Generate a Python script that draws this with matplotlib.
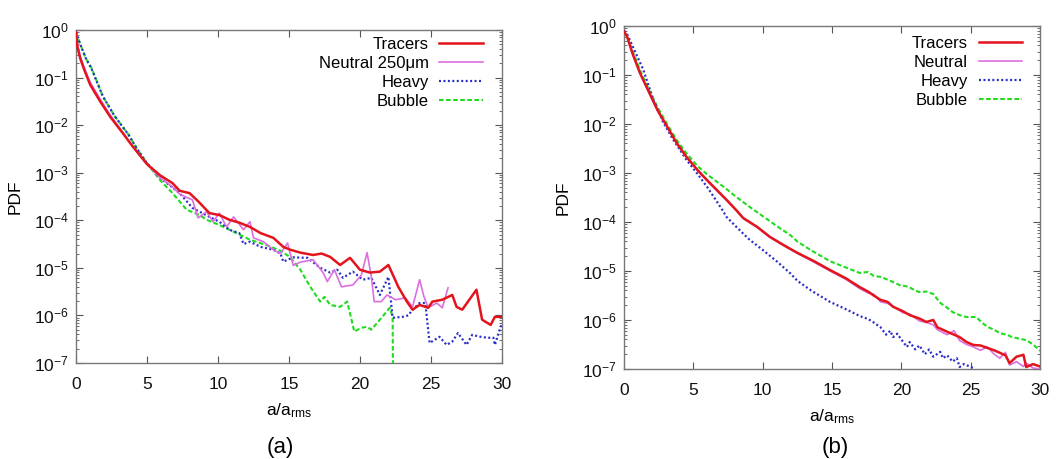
import numpy as np
import matplotlib
matplotlib.use("Agg")
import matplotlib.pyplot as plt
from matplotlib.ticker import LogLocator, FixedLocator, NullFormatter

plt.rcParams['font.family'] = ['Liberation Sans', 'DejaVu Sans']
plt.rcParams['mathtext.fontset'] = 'custom'
plt.rcParams['mathtext.rm'] = 'Liberation Sans'
plt.rcParams['mathtext.it'] = 'Liberation Sans'
plt.rcParams['mathtext.default'] = 'regular'

# ---------------- Panel (a) data (x = a/a_rms, y = log10 PDF) ----------------
a_tracers_x = [0, 0.1, 0.3, 0.6, 1.0, 1.7, 2.4, 3.3, 4.0, 5.0, 5.9, 6.8, 7.3, 8.0, 8.6, 9.4, 10.1, 10.8, 11.5, 12.25,
               13.0, 13.9, 14.6, 15.1, 15.8, 16.7, 17.3, 17.9, 18.6, 19.3, 20.0, 20.7, 21.4, 22.0, 22.7, 23.3, 23.7,
               24.2, 24.8, 25.1, 25.8, 26.5, 26.8, 27.2, 28.2, 28.6, 29.2, 29.5, 30]
a_tracers_log = [-0.05, -0.35, -0.6, -0.85, -1.15, -1.5, -1.82, -2.17, -2.45, -2.82, -3.05, -3.22, -3.38, -3.43, -3.6,
                 -3.85, -3.89, -3.99, -4.05, -4.14, -4.27, -4.37, -4.56, -4.62, -4.68, -4.73, -4.7, -4.77, -4.94, -4.79,
                 -5.04, -5.1, -5.08, -4.94, -5.4, -5.71, -5.88, -5.78, -5.84, -5.71, -5.67, -5.57, -5.82, -5.88, -5.46,
                 -6.09, -6.2, -6.03, -6.03]

a_neutral_x = [0, 0.1, 0.3, 0.6, 1.0, 1.7, 2.4, 3.3, 4.0, 5.0, 5.9, 6.8, 7.3, 7.8, 8.2, 8.6, 9.2, 9.65, 10.1, 10.6,
               11.1, 11.8, 12.25, 12.5, 13.2, 13.9, 14.4, 14.9, 15.3, 15.8, 16.7, 17.4, 17.7, 18.2, 18.7, 19.5, 20.1,
               20.5, 20.8, 21.0, 21.5, 21.9, 22.5, 23.2, 23.7, 24.2, 24.5, 24.8, 25.4, 25.8, 26.2]
a_neutral_log = [-0.05, -0.3, -0.55, -0.8, -1.1, -1.45, -1.78, -2.15, -2.45, -2.82, -3.1, -3.3, -3.45, -3.52, -3.57,
                 -3.95, -3.82, -4.03, -3.85, -4.14, -3.93, -4.2, -4.03, -4.37, -4.45, -4.62, -4.7, -4.48, -4.95, -4.88,
                 -4.83, -5.1, -5.29, -5.04, -5.4, -5.36, -5.15, -4.68, -5.19, -5.71, -5.71, -5.57, -5.67, -5.63, -5.82,
                 -5.25, -5.6, -5.84, -5.74, -5.84, -5.42]

a_heavy_x = [0, 0.3, 0.7, 1.1, 1.9, 2.7, 3.7, 4.3, 5.0, 5.9, 7.3, 8.2, 9.4, 10.1, 10.8, 11.5, 11.8, 12.25, 13.0, 13.9,
             14.4, 14.6, 15.3, 16.3, 17.2, 17.9, 18.4, 18.8, 19.5, 20.2, 20.8, 21.4, 22.0, 22.3, 23.0, 23.4, 23.7,
             24.2, 24.6, 24.9, 25.6, 26.1, 26.5, 26.9, 27.5, 27.9, 28.5, 29.0, 29.4, 29.5, 29.9, 30]
a_heavy_log = [-0.05, -0.3, -0.6, -0.82, -1.4, -1.8, -2.2, -2.5, -2.8, -3.1, -3.43, -3.74, -3.93, -4.03, -4.2, -4.27,
               -4.5, -4.45, -4.56, -4.62, -4.7, -4.87, -4.78, -4.79, -5.0, -5.1, -5.04, -5.21, -5.08, -5.25, -5.21,
               -5.57, -5.19, -6.05, -6.03, -6.0, -5.88, -5.74, -5.74, -6.58, -6.45, -6.62, -6.55, -6.37, -6.62, -6.41,
               -6.45, -6.47, -6.47, -6.62, -6.24, -6.2]

a_bubble_x = [0, 0.3, 0.7, 1.1, 1.9, 2.7, 3.7, 4.3, 5.0, 5.9, 6.8, 7.8, 8.7, 9.2, 10.1, 11.1, 12.25, 13.4, 14.4, 15.1,
              15.8, 16.5, 17.2, 17.5, 17.9, 18.6, 19.1, 19.6, 20.1, 20.5, 20.8, 21.4, 22.1, 22.3, 22.35]
a_bubble_log = [-0.05, -0.3, -0.6, -0.8, -1.4, -1.8, -2.2, -2.5, -2.8, -3.15, -3.43, -3.78, -3.89, -3.99, -4.1, -4.24,
                -4.41, -4.52, -4.64, -4.78, -5.04, -5.4, -5.71, -5.61, -5.78, -5.82, -5.71, -6.34, -6.26, -6.24, -6.3,
                -6.09, -5.84, -6.03, -9.0]

# ---------------- Panel (b) data ----------------
b_tracers_x = [0, 0.2, 0.6, 1.15, 1.8, 2.4, 3.1, 3.8, 4.5, 5.3, 6.0, 6.7, 7.4, 8.1, 8.6, 9.6, 10.5, 11.5, 12.5, 13.7,
               14.85, 16.0, 17.0, 17.6, 18.0, 18.5, 19.0, 19.4, 20.1, 20.6, 21.3, 21.8, 22.3, 22.6, 23.3, 23.8, 24.2,
               24.7, 25.2, 25.7, 26.2, 26.7, 27.1, 27.5, 27.8, 28.3, 28.8, 29.0, 29.5, 30]
b_tracers_log = [-0.12, -0.2, -0.55, -0.96, -1.35, -1.71, -2.05, -2.39, -2.67, -2.94, -3.15, -3.35, -3.55, -3.76, -3.92,
                 -4.1, -4.3, -4.47, -4.63, -4.8, -4.98, -5.15, -5.33, -5.42, -5.5, -5.59, -5.63, -5.73, -5.82, -5.9,
                 -5.97, -6.04, -6.0, -6.15, -6.24, -6.3, -6.35, -6.45, -6.51, -6.52, -6.57, -6.62, -6.67, -6.72, -6.88,
                 -6.75, -6.71, -6.96, -6.9, -6.95]

b_neutral_x = [0, 0.2, 0.6, 1.15, 1.8, 2.4, 3.1, 3.8, 4.5, 5.3, 6.0, 6.7, 7.4, 8.1, 8.6, 9.6, 10.5, 11.5, 12.5, 13.7,
               14.85, 16.0, 17.0, 17.6, 18.0, 18.5, 19.0, 19.4, 20.1, 20.6, 21.3, 21.8, 22.3, 22.6, 23.3, 23.8, 24.2,
               24.7, 25.2, 25.7, 26.2, 26.7, 27.1, 27.5, 27.8, 28.3, 28.8, 29.0, 29.5, 30]
b_neutral_log = [-0.12, -0.2, -0.56, -0.97, -1.36, -1.72, -2.06, -2.4, -2.68, -2.95, -3.16, -3.36, -3.56, -3.77, -3.93,
                 -4.11, -4.31, -4.48, -4.64, -4.82, -5.0, -5.17, -5.36, -5.45, -5.47, -5.63, -5.66, -5.72, -5.85, -5.88,
                 -6.02, -6.05, -6.1, -6.2, -6.3, -6.22, -6.42, -6.5, -6.55, -6.62, -6.55, -6.7, -6.78, -6.66, -6.92,
                 -6.85, -6.95, -6.88, -6.98, -7.0]

b_heavy_x = [0, 0.2, 0.6, 1.4, 2.1, 2.8, 3.5, 4.5, 5.3, 6.0, 6.5, 7.1, 7.4, 8.1, 9.0, 10.0, 11.0, 12.0, 12.5, 13.5,
             14.85, 16.0, 17.0, 17.6, 18.0, 18.5, 18.9, 19.2, 19.4, 19.7, 20.0, 20.4, 20.6, 21.0, 21.3, 21.7, 22.0,
             22.3, 22.8, 23.0, 23.3, 23.7, 24.0, 24.2, 24.5, 25.2, 25.6]
b_heavy_log = [-0.1, -0.15, -0.4, -0.9, -1.5, -1.95, -2.3, -2.73, -3.02, -3.29, -3.5, -3.76, -3.9, -4.1, -4.35, -4.57,
               -4.8, -5.05, -5.2, -5.4, -5.63, -5.78, -5.92, -5.98, -6.05, -6.15, -6.3, -6.22, -6.35, -6.28, -6.4,
               -6.55, -6.45, -6.6, -6.52, -6.7, -6.6, -6.75, -6.65, -6.78, -6.72, -6.85, -6.78, -6.96, -6.9, -6.98,
               -7.2]

b_bubble_x = [0, 0.2, 0.6, 1.15, 1.8, 2.4, 3.1, 3.8, 4.5, 5.3, 6.0, 6.7, 7.4, 8.1, 9.0, 10.0, 11.0, 12.0, 12.5, 13.5,
              14.85, 16.0, 17.0, 17.6, 18.0, 18.5, 19.2, 19.9, 20.5, 21.0, 21.3, 21.8, 22.3, 22.8, 23.3, 23.7, 24.2,
              24.7, 25.4, 25.8, 26.2, 26.7, 27.1, 27.6, 28.0, 28.5, 29.0, 29.5, 30]
b_bubble_log = [-0.1, -0.2, -0.5, -0.9, -1.3, -1.65, -2.0, -2.33, -2.6, -2.86, -3.03, -3.18, -3.33, -3.49, -3.68, -3.88,
                -4.08, -4.27, -4.4, -4.58, -4.8, -4.93, -5.04, -5.02, -5.1, -5.12, -5.2, -5.29, -5.32, -5.4, -5.43,
                -5.42, -5.47, -5.65, -5.75, -5.84, -5.9, -5.94, -5.94, -6.05, -6.14, -6.2, -6.27, -6.3, -6.35, -6.38,
                -6.41, -6.5, -6.63]

labels_a = ["Tracers", "Neutral 250\u03bcm", "Heavy", "Bubble"]
labels_b = ["Tracers", "Neutral", "Heavy", "Bubble"]
x_ticks = [0, 5, 10, 15, 20, 25, 30]
y_ticks = [1e-7, 1e-6, 1e-5, 1e-4, 1e-3, 1e-2, 1e-1, 1e0]
y_ticklabels = ["$10^{-7}$", "$10^{-6}$", "$10^{-5}$", "$10^{-4}$", "$10^{-3}$", "$10^{-2}$", "$10^{-1}$", "$10^{0}$"]
panel_labels = ["(a)", "(b)"]

styles = [
    dict(color="#e3141c", lw=1.8, ls="-"),
    dict(color="#dc6ee0", lw=1.2, ls="-"),
    dict(color="#2a2ec8", lw=1.6, ls=(0, (0.9, 1.1))),
    dict(color="#1fdc1f", lw=1.5, ls=(0, (2.2, 1.2))),
]

FS = 12.5
LFS = 12

fig = plt.figure(figsize=(10.64, 4.59), dpi=100)
ax_a = fig.add_axes([0.0714, 0.2092, 0.4004, 0.7255])
ax_b = fig.add_axes([0.5865, 0.1961, 0.3910, 0.7473])

series_a = [(a_tracers_x, a_tracers_log), (a_neutral_x, a_neutral_log),
            (a_heavy_x, a_heavy_log), (a_bubble_x, a_bubble_log)]
series_b = [(b_tracers_x, b_tracers_log), (b_neutral_x, b_neutral_log),
            (b_heavy_x, b_heavy_log), (b_bubble_x, b_bubble_log)]

for ax, series, labels, anchor in [(ax_a, series_a, labels_a, (0.955, 0.978)),
                                   (ax_b, series_b, labels_b, (0.957, 0.972))]:
    lines = [None] * 4
    for i in [3, 2, 1, 0]:
        xs, ls_ = series[i]
        (ln,) = ax.plot(xs, np.power(10.0, ls_), label=labels[i], zorder=3 + (4 - i), **styles[i])
        lines[i] = ln
    ax.set_yscale("log")
    ax.set_xlim(0, 30)
    ax.set_ylim(1e-7, 1e0)
    ax.xaxis.set_major_locator(FixedLocator(x_ticks))
    ax.set_yticks(y_ticks)
    ax.set_yticklabels(y_ticklabels)
    ax.yaxis.set_minor_locator(LogLocator(base=10, subs=np.arange(2, 10), numticks=20))
    ax.yaxis.set_minor_formatter(NullFormatter())
    ax.tick_params(which="both", direction="in", top=True, right=True, labelsize=FS,
                   colors="#555555", labelcolor="#111111")
    ax.tick_params(which="major", length=5, width=0.8)
    ax.tick_params(which="minor", length=2.5, width=0.6)
    ax.tick_params(axis="x", pad=10)
    ax.tick_params(axis="y", pad=5)
    for sp in ax.spines.values():
        sp.set_color("#777777")
        sp.set_linewidth(1.0)
    ax.set_xlabel("a/a$_{rms}$", fontsize=FS, labelpad=7)
    ax.set_ylabel("PDF", fontsize=FS, labelpad=8)
    ax.legend(handles=lines, loc="upper right", bbox_to_anchor=anchor, frameon=False, markerfirst=False,
              fontsize=LFS, handlelength=2.6, handletextpad=0.65, labelspacing=0.24,
              borderaxespad=0.0, borderpad=0.0)

fig.text(0.263, 0.024, panel_labels[0], ha="center", va="center", fontsize=16)
fig.text(0.785, 0.024, panel_labels[1], ha="center", va="center", fontsize=16)

fig.savefig("out.png", dpi=100, facecolor="white")
